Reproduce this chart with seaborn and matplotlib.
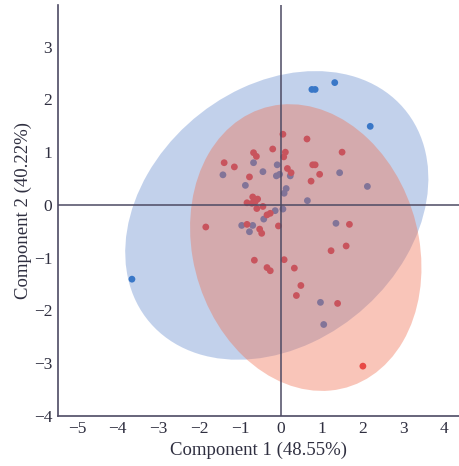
import numpy as np
import pandas as pd
import matplotlib
matplotlib.use("Agg")
import matplotlib.pyplot as plt
from matplotlib.patches import Ellipse
import seaborn as sns

# Scores
blue_x = [0.76, 0.84, 1.32, 2.19, -3.65,
          -0.67, -1.42, -0.44, -0.09, -0.11, -0.03, 0.23, -0.87, 0.13, 0.08,
          0.65, 1.44, 2.12, -0.14, 0.05, -0.42, -0.96, -0.69, -0.77, 1.35,
          0.97, 1.05]
blue_y = [2.19, 2.19, 2.32, 1.49, -1.41,
          0.80, 0.57, 0.63, 0.76, 0.55, 0.58, 0.55, 0.37, 0.31, 0.22,
          0.08, 0.61, 0.35, -0.11, -0.08, -0.27, -0.39, -0.39, -0.51, -0.35,
          -1.85, -2.27]

red_x = [0.05, 0.64, 1.50, -0.20, 0.11, 0.07, -0.67, -0.60, -1.39, -1.14,
         -0.77, 0.16, 0.25, 0.78, 0.84, 0.95, 0.74,
         -0.69, -0.57, -0.83, -0.71, -0.59, -0.44, -0.63,
         -0.34, -0.26, -1.84, -0.83, -0.52, -0.47, -0.06, 1.68, 1.60, 1.23,
         -0.65, 0.08, -0.34, -0.26, 0.33, 0.49, 0.38, 1.39, 2.01]
red_y = [1.34, 1.25, 1.00, 1.06, 1.00, 0.91, 0.99, 0.92, 0.80, 0.72,
         0.53, 0.69, 0.61, 0.76, 0.76, 0.58, 0.45,
         0.15, 0.11, 0.04, 0.03, -0.07, -0.03, 0.06,
         -0.19, -0.16, -0.42, -0.37, -0.46, -0.54, -0.40, -0.37, -0.78, -0.87,
         -1.05, -1.04, -1.19, -1.25, -1.20, -1.53, -1.72, -1.87, -3.06]

# Confidence ellipses (centre, covariance-like shape matrix)
blue_center = [-0.1, -0.2]
blue_shape = [[13.8, 2.6], [2.6, 7.5]]
red_center = [0.61, -0.81]
red_shape = [[8.04, -1.08], [-1.08, 7.40]]

x_ticks = [-5, -4, -3, -2, -1, 0, 1, 2, 3, 4]
y_ticks = [-4, -3, -2, -1, 0, 1, 2, 3]

df = pd.DataFrame({
    "c1": blue_x + red_x,
    "c2": blue_y + red_y,
    "group": ["blue"] * len(blue_x) + ["red"] * len(red_x),
})

sns.set_style("white")
plt.rcParams["font.family"] = ["Liberation Serif", "DejaVu Serif"]

fig = plt.figure(figsize=(4.6, 4.66), dpi=100)
ax = fig.add_axes([0.1254, 0.108, 0.8746, 0.881])

sns.scatterplot(data=df, x="c1", y="c2", hue="group",
                palette={"blue": "#3b7ecb", "red": "#e3323f"},
                s=24, edgecolor="none", legend=False, zorder=1, ax=ax)


def add_ellipse(center, shape, color, alpha, z):
    vals, vecs = np.linalg.eigh(np.array(shape))
    angle = np.degrees(np.arctan2(vecs[1, 1], vecs[0, 1]))
    e = Ellipse(center, 2 * np.sqrt(vals[1]), 2 * np.sqrt(vals[0]), angle=angle,
                facecolor=color, edgecolor="none", alpha=alpha, zorder=z)
    ax.add_patch(e)


add_ellipse(blue_center, blue_shape, "#3769c0", 0.30, 2)
add_ellipse(red_center, red_shape, "#f07052", 0.40, 3)

line_col = "#4d4a63"
ax.axhline(0, color=line_col, lw=1.1, zorder=4)
ax.axvline(0, color=line_col, lw=1.1, zorder=4)

ax.set_xlim(-5.47, 4.39)
ax.set_ylim(-4.0, 3.79)
ax.set_xticks(x_ticks)
ax.set_yticks(y_ticks)
ax.set_xticklabels([f"\u2212{abs(t)}" if t < 0 else str(t) for t in x_ticks])
ax.set_yticklabels([f"\u2212{abs(t)}" if t < 0 else str(t) for t in y_ticks])
ax.tick_params(length=0, labelsize=12.5, colors="#2f2f40", pad=4)

for side in ["top", "right"]:
    ax.spines[side].set_visible(False)
for side in ["left", "bottom"]:
    ax.spines[side].set_color(line_col)
    ax.spines[side].set_linewidth(1.2)

ax.set_xlabel("Component 1 (48.55%)", fontsize=13.5, color="#2f2f40", labelpad=3)
ax.set_ylabel("Component 2 (40.22%)", fontsize=13.5, color="#2f2f40", labelpad=1)

fig.savefig("out.png", dpi=100)
